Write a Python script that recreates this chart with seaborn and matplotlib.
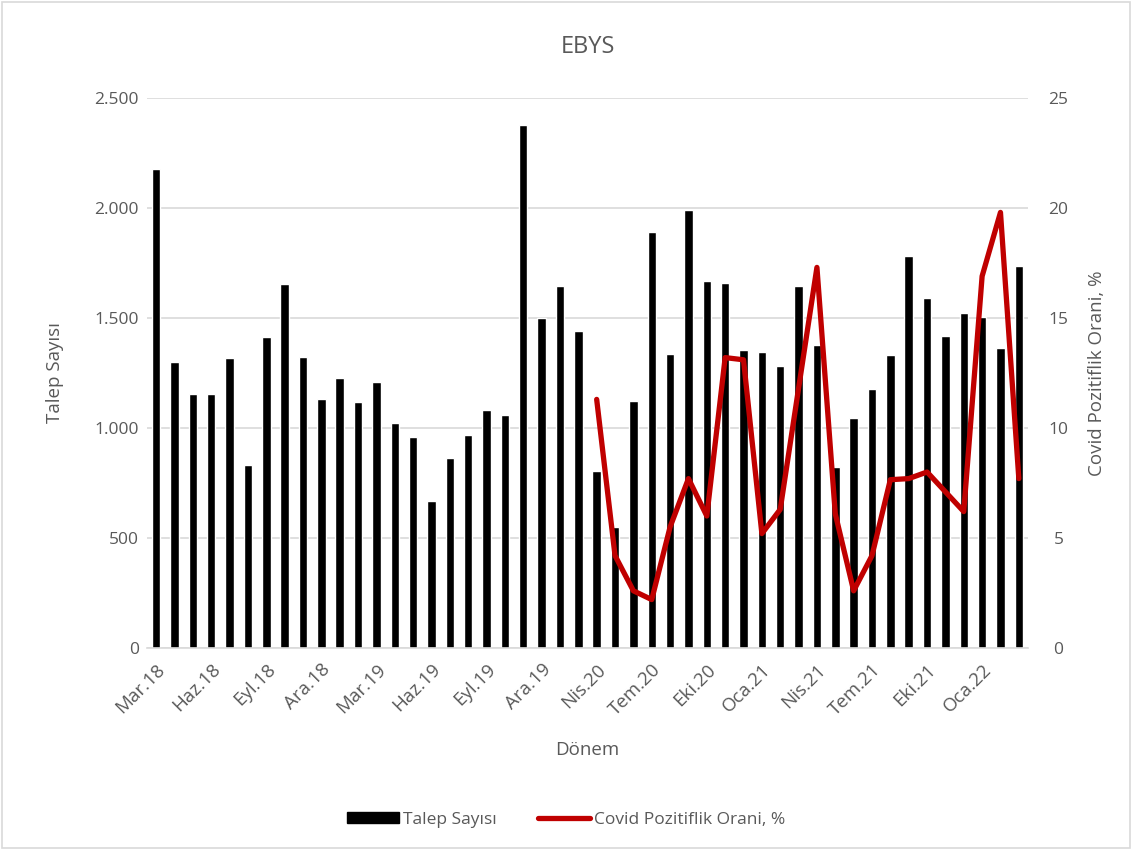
import matplotlib
matplotlib.use("Agg")
import matplotlib.pyplot as plt
from matplotlib.ticker import FuncFormatter, MultipleLocator, FixedLocator
from matplotlib.lines import Line2D
from matplotlib.patches import Patch
import numpy as np
import pandas as pd
import seaborn as sns

# Monthly periods (Mart 2020 not reported)
months = (
    ["Mar.18", "Nis.18", "May.18", "Haz.18", "Tem.18", "Ağu.18", "Eyl.18", "Eki.18",
     "Kas.18", "Ara.18", "Oca.19", "Şub.19", "Mar.19", "Nis.19", "May.19", "Haz.19",
     "Tem.19", "Ağu.19", "Eyl.19", "Eki.19", "Kas.19", "Ara.19", "Oca.20", "Şub.20",
     "Nis.20", "May.20", "Haz.20", "Tem.20", "Ağu.20", "Eyl.20", "Eki.20", "Kas.20",
     "Ara.20", "Oca.21", "Şub.21", "Mar.21", "Nis.21", "May.21", "Haz.21", "Tem.21",
     "Ağu.21", "Eyl.21", "Eki.21", "Kas.21", "Ara.21", "Oca.22", "Şub.22", "Mar.22"]
)

talep_sayisi = [
    2177, 1300, 1156, 1156, 1320, 833, 1412, 1654, 1324, 1134, 1227, 1118,
    1210, 1023, 959, 669, 864, 969, 1083, 1058, 2376, 1502, 1647, 1440,
    805, 548, 1123, 1889, 1338, 1993, 1666, 1659, 1353, 1346, 1281, 1647,
    1379, 821, 1045, 1177, 1331, 1780, 1589, 1419, 1523, 1505, 1364, 1737,
]

# Covid positivity rate, available from Nis.20 onward
covid_orani = [np.nan] * 24 + [
    11.3, 4.2, 2.6, 2.2, 5.5, 7.7, 6.0, 13.2, 13.1, 5.2, 6.3, 11.8,
    17.3, 6.1, 2.6, 4.2, 7.65, 7.7, 8.0, 7.1, 6.2, 16.9, 19.8, 7.7,
]

label_every = 3

df = pd.DataFrame({
    "idx": np.arange(len(months)),
    "Dönem": months,
    "Talep Sayısı": talep_sayisi,
    "Covid": covid_orani,
})

sns.set_theme(style="white")
plt.rcParams["font.family"] = ["Open Sans", "DejaVu Sans"]
text_gray = "#595959"
grid_gray = "#d9d9d9"

fig = plt.figure(figsize=(11.32, 8.5), dpi=100)
ax = fig.add_axes([147 / 1132, 1 - 648 / 850, (1028 - 147) / 1132, (648 - 98) / 850])

sns.barplot(data=df, x="idx", y="Talep Sayısı", color="black", width=0.46,
            saturation=1, ax=ax, zorder=2)

ax.set_ylim(0, 2500)
ax.yaxis.set_major_locator(MultipleLocator(500))
ax.yaxis.set_major_formatter(FuncFormatter(lambda v, p: f"{int(v):,}".replace(",", ".")))
ax.set_xlim(-0.5, len(months) - 0.5)
ax.grid(axis="y", color=grid_gray, linewidth=1.2, zorder=0)
ax.set_axisbelow(True)

# category labels every third month, ticks at category boundaries
ax.xaxis.set_major_locator(FixedLocator(np.arange(0, len(months), label_every)))
ax.set_xticklabels([months[i] for i in range(0, len(months), label_every)],
                   rotation=45, ha="right", rotation_mode="anchor",
                   fontsize=13.5, color=text_gray)
ax.tick_params(axis="x", which="major", length=0, pad=9)
ax.xaxis.set_minor_locator(FixedLocator(np.arange(-0.5, len(months), 1)))
ax.tick_params(axis="x", which="minor", length=5, color=grid_gray, width=1.2)
ax.tick_params(axis="y", length=0, labelsize=12.5, labelcolor=text_gray, pad=6)

for side in ["top", "right", "left"]:
    ax.spines[side].set_visible(False)
ax.spines["bottom"].set_color(grid_gray)
ax.spines["bottom"].set_linewidth(1.2)

ax.set_xlabel("Dönem", fontsize=13.5, color=text_gray, labelpad=16)
ax.set_ylabel("Talep Sayısı", fontsize=13.5, color=text_gray, labelpad=22)

ax2 = ax.twinx()
sns.lineplot(data=df, x="idx", y="Covid", color="#c00000", linewidth=3.8,
             ax=ax2, zorder=3)
ax2.set_ylim(0, 25)
ax2.yaxis.set_major_locator(MultipleLocator(5))
ax2.tick_params(axis="y", length=0, labelsize=12.5, labelcolor=text_gray, pad=22)
ax2.set_ylabel("Covid Pozitiflik Orani, %", fontsize=13.5, color=text_gray, labelpad=14)
ax2.set_xlabel("")
for side in ["top", "right", "left", "bottom"]:
    ax2.spines[side].set_visible(False)
ax2.set_xlim(-0.5, len(months) - 0.5)
for lbl in ax2.get_yticklabels():
    lbl.set_horizontalalignment("center")

fig.suptitle("EBYS", x=(147 + 1028) / 2 / 1132, y=1 - 47 / 850, va="center",
             fontsize=17, color=text_gray)

handles = [
    Patch(facecolor="black", edgecolor="black", label="Talep Sayısı"),
    Line2D([0], [0], color="#c00000", linewidth=3.8, label="Covid Pozitiflik Orani, %"),
]
fig.legend(handles=handles, loc="center", bbox_to_anchor=(0.5, 1 - 820 / 850),
           ncol=2, frameon=False, fontsize=12.5, labelcolor=text_gray,
           handlelength=3.0, handleheight=0.6, handletextpad=0.2, columnspacing=2.4)

# chart border
fig.patches.append(plt.Rectangle((0.002, 0.002), 0.996, 0.996, transform=fig.transFigure,
                                 fill=False, edgecolor=grid_gray, linewidth=1.2))

fig.savefig("out.png", dpi=100, facecolor="white")
